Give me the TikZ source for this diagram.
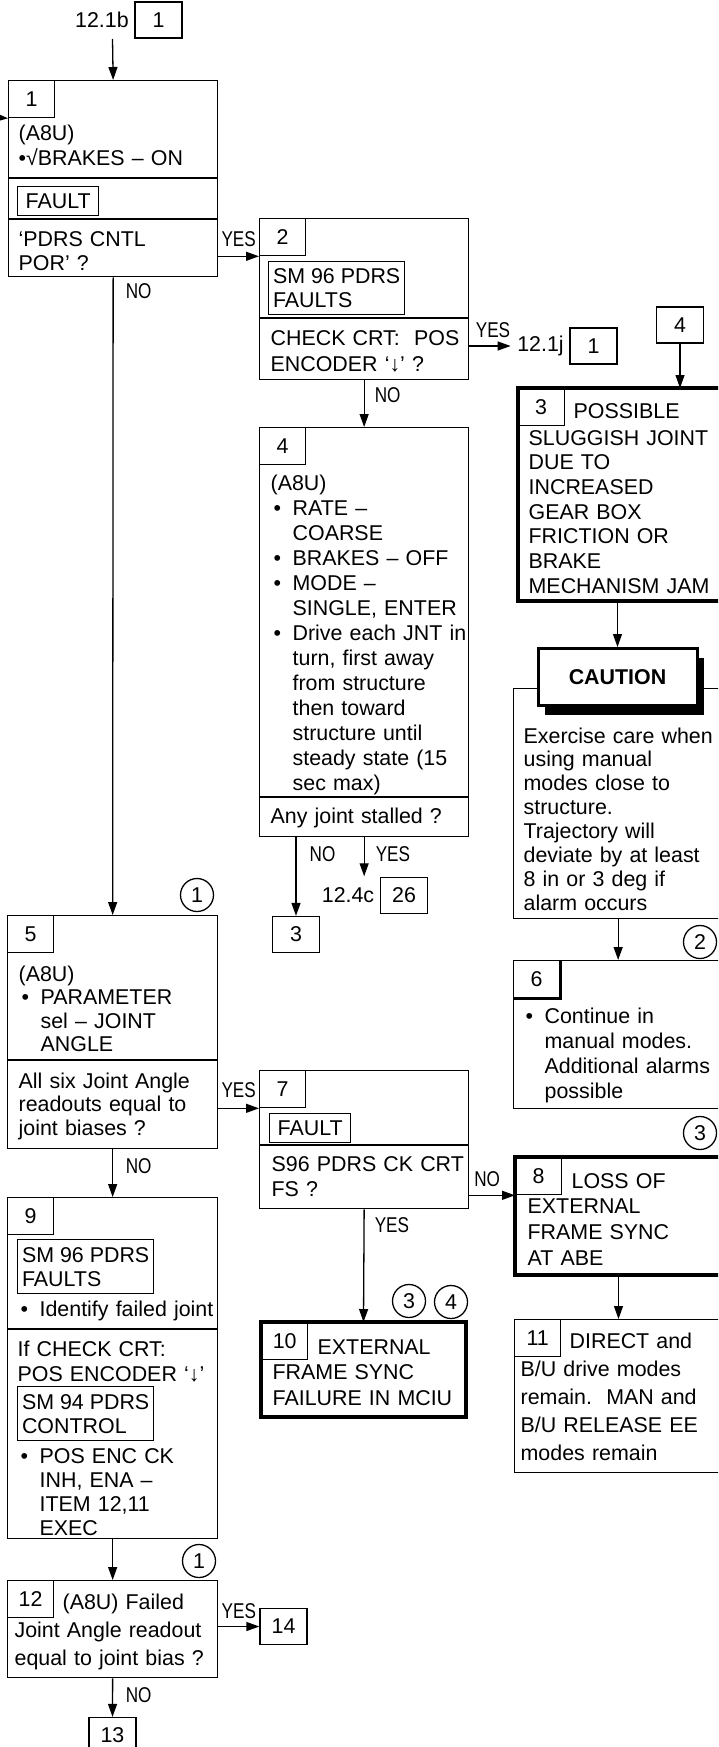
\documentclass[tikz,border=0pt]{standalone}
\usepackage{fontspec}
\setmainfont{Liberation Sans}
\usetikzlibrary{arrows.meta,positioning,shadows}
\newcommand{\sz}[1]{\fontsize{21.4}{#1}\selectfont}
\newcommand{\cond}[1]{\scalebox{0.8}[1]{#1}}
\newcommand{\bitem}{\hspace*{3pt}\makebox[19pt][l]{•}}
\newcommand{\bind}{\hspace*{22pt}}

\begin{document}
\begin{tikzpicture}[x=1pt, y=-1pt, font=\sz{25}, line width=1.3pt, >={Triangle[length=13pt,width=9pt]}]
\tikzstyle{box}=[draw, anchor=north west, inner sep=0pt]
\tikzstyle{heavy}=[box, line width=4pt, outer sep=0pt]
\tikzstyle{tab}=[draw, anchor=north west, minimum width=46pt, minimum height=37pt, inner sep=0pt]
\tikzstyle{txt}=[anchor=base west, inner sep=0pt, align=left, text width=210pt]
\tikzstyle{framed}=[draw, anchor=north west, align=left, inner sep=0pt]
\tikzstyle{ref}=[draw, minimum width=47pt, minimum height=36pt, inner sep=0pt]
\tikzstyle{circ}=[draw, circle, minimum size=33pt, inner sep=0pt]
\tikzstyle{lbl}=[inner sep=0pt]
\tikzstyle{arr}=[->]
\tikzstyle{cauthead}=[draw, fill=white, line width=3pt, minimum width=159pt, minimum height=57pt, font=\sz{25}\bfseries, drop shadow={shadow xshift=7pt, shadow yshift=-9pt, fill=black, opacity=1}]

\useasboundingbox (0,0) rectangle (718,1747);
\clip (0,0) rectangle (718,1747);
\fill[white] (0,0) rectangle (718,1747);

\node[ref] (r0) at (158.5,20) {1};
\node[lbl, left=5pt of r0] (l0) {12.1b};
\coordinate (in1) at (112.5,39);
\coordinate (in0) at (-10,117);

\node[box, minimum width=209pt, minimum height=196pt] (b1) at (8,80) {};
\node[tab] (t1) at (b1.north west) {1};
\node[txt] (b1a) at (18,141) {(A8U)\\•√BRAKES – ON};
\draw (b1.west |- 0,178) -- (b1.east |- 0,178);
\node[framed, minimum width=81pt, minimum height=29pt] (b1f) at (17,186) {FAULT};
\draw (b1.west |- 0,219) -- (b1.east |- 0,219);
\node[txt, font=\sz{24}] (b1q) at (18,246) {‘PDRS CNTL\\POR’ ?};

\node[box, minimum width=209pt, minimum height=161pt] (b2) at (259,218) {};
\node[tab] (t2) at (b2.north west) {2};
\node[framed, minimum width=136pt, minimum height=53pt, font=\sz{24}] (b2f) at (268,261) {SM 96 PDRS\\FAULTS};
\draw (b2.west |- 0,318) -- (b2.east |- 0,318);
\node[txt, font=\sz{26}] (b2q) at (270,345) {CHECK CRT:\ \ POS\\ENCODER ‘↓’ ?};

\node[ref] (r1j) at (593.5,346) {1};
\node[lbl, left=5pt of r1j] (l1j) {12.1j};
\node[ref] (r4) at (680,325) {4};

\node[box, minimum width=209pt, minimum height=409pt] (b4) at (259,427) {};
\node[tab] (t4) at (b4.north west) {4};
\node[txt] (b4a) at (270,490) {(A8U)\\
\bitem RATE –\\
\bind COARSE\\
\bitem BRAKES – OFF\\
\bitem MODE –\\
\bind SINGLE, ENTER\\
\bitem Drive each JNT in\\
\bind turn, first away\\
\bind from structure\\
\bind then toward\\
\bind structure until\\
\bind steady state (15\\
\bind sec max)};
\draw (b4.west |- 0,797) -- (b4.east |- 0,797);
\node[txt] (b4q) at (270,823) {Any joint stalled ?};

\node[ref] (r3) at (296,934.5) {3};
\node[ref] (r26) at (404,895.5) {26};
\node[lbl, left=5pt of r26] (l4c) {12.4c};

\node[heavy, minimum width=204.5pt, minimum height=213pt] (b3) at (517.5,388) {};
\node[tab] (t3) at (b3.north west) {3};
\node[txt] (b3a) at (573,418) {POSSIBLE};
\node[txt, font=\sz{24.7}] (b3b) at (528,445) {SLUGGISH JOINT\\DUE TO\\INCREASED\\GEAR BOX\\FRICTION OR\\BRAKE\\MECHANISM JAM};

\node[box, minimum width=209pt, minimum height=230pt] (cb) at (513,688) {};
\node[cauthead] (ch) at (617.5,677) {CAUTION};
\node[txt, font=\sz{23.9}] (cbt) at (523,743) {Exercise care when\\using manual\\modes close to\\structure.\\Trajectory will\\deviate by at least\\8 in or 3 deg if\\alarm occurs};

\node[box, minimum width=209pt, minimum height=148pt] (b6) at (513,960) {};
\node[tab] (t6) at (b6.north west) {6};
\draw[line width=2.8pt] (t6.north east) -- (t6.south east) -- (t6.south west);
\node[txt] (b6a) at (522,1023) {\bitem Continue in\\
\bind manual modes.\\
\bind Additional alarms\\
\bind possible};

\node[circ] (c1a) at (197,895) {1};
\node[circ] (c2) at (700,942) {2};
\node[circ] (c3a) at (700,1133) {3};
\node[circ] (c3b) at (409,1301) {3};
\node[circ] (c4) at (451,1302) {4};
\node[circ] (c1b) at (199,1561) {1};

\node[box, minimum width=210pt, minimum height=233pt] (b5) at (7,915) {};
\node[tab] (t5) at (b5.north west) {5};
\node[txt, font=\sz{23.5}] (b5a) at (18,981) {(A8U)\\
\bitem PARAMETER\\
\bind sel – JOINT\\
\bind ANGLE};
\draw (b5.west |- 0,1060) -- (b5.east |- 0,1060);
\node[txt, font=\sz{23.5}] (b5q) at (18,1088) {All six Joint Angle\\readouts equal to\\joint biases ?};

\node[box, minimum width=209pt, minimum height=138pt] (b7) at (259,1070) {};
\node[tab] (t7) at (b7.north west) {7};
\node[framed, minimum width=81pt, minimum height=29pt] (b7f) at (269,1113) {FAULT};
\draw (b7.west |- 0,1145) -- (b7.east |- 0,1145);
\node[txt] (b7q) at (271,1171) {S96 PDRS CK CRT\\FS ?};

\node[heavy, minimum width=207pt, minimum height=118pt] (b8) at (515,1157) {};
\node[tab] (t8) at (b8.north west) {8};
\node[txt] (b8a) at (571,1188) {LOSS OF};
\node[txt, font=\sz{26}] (b8b) at (527,1213) {EXTERNAL\\FRAME SYNC\\AT ABE};

\node[box, minimum width=210pt, minimum height=341pt] (b9) at (7,1197) {};
\node[tab] (t9) at (b9.north west) {9};
\node[framed, minimum width=136pt, minimum height=54pt, font=\sz{24}] (b9f) at (17,1239) {SM 96 PDRS\\FAULTS};
\node[txt] (b9a) at (17,1316) {\bitem Identify failed joint};
\draw (b9.west |- 0,1329) -- (b9.east |- 0,1329);
\node[txt] (b9b) at (17,1356) {If CHECK CRT:\\POS ENCODER ‘↓’};
\node[framed, minimum width=136pt, minimum height=54pt, font=\sz{24}] (b9g) at (17,1386) {SM 94 PDRS\\CONTROL};
\node[txt, font=\sz{24}] (b9c) at (17,1463) {\bitem POS ENC CK\\
\bind INH, ENA –\\
\bind ITEM 12,11\\
\bind EXEC};

\node[heavy, minimum width=205pt, minimum height=95pt] (b10) at (261,1322) {};
\node[tab] (t10) at (b10.north west) {10};
\node[txt] (b10a) at (317,1354) {EXTERNAL};
\node[txt, font=\sz{26}] (b10b) at (272,1379) {FRAME SYNC\\FAILURE IN MCIU};

\node[box, minimum width=208pt, minimum height=153pt] (b11) at (514,1319) {};
\node[tab] (t11) at (b11.north west) {11};
\node[txt] (b11a) at (569,1348) {DIRECT and};
\node[txt, font=\sz{28}] (b11b) at (520,1376) {B/U drive modes\\remain.\ \ MAN and\\B/U RELEASE EE\\modes remain};

\node[box, minimum width=210pt, minimum height=97pt] (b12) at (7,1580) {};
\node[tab] (t12) at (b12.north west) {12};
\node[txt] (b12a) at (62,1609) {(A8U) Failed};
\node[txt, font=\sz{28}] (b12b) at (14,1637) {Joint Angle readout\\equal to joint bias ?};

\node[ref] (r14) at (283.5,1626.5) {14};
\node[ref] (r13) at (112.5,1735.5) {13};

\draw[arr] (in1) -- (b1.north);
\draw[arr] (in0) -- (b1.west |- t1.south);
\draw[arr] (b1.east |- t2.south) -- node[lbl, above=9pt] {\cond{YES}} (b2.west |- t2.south);
\draw[arr] (b1.south) node[lbl, below right=6pt and 12pt] {\cond{NO}} -- (b5.north);
\draw[arr, shorten >=6pt] (b2.east |- l1j.west) -- node[lbl, above=8pt] {\cond{YES}} (l1j.west);
\draw[arr] (b2.south) node[lbl, below right=6.5pt and 10pt] {\cond{NO}} -- (b4.north);
\draw[arr] (r4.south) -- (r4.south |- b3.north);
\draw[arr] (ch.north |- b3.south) -- (ch.north);
\draw[arr] (cb.south) -- (b6.north);
\draw[arr] (b4.south -| r3.north) node[lbl, below right=9pt and 13pt] {\cond{NO}} -- (r3.north);
\draw[arr, shorten >=11pt] (b4.south) node[lbl, below right=9pt and 11pt] {\cond{YES}} -- (b4.south |- l4c.north);
\draw[arr] (b5.east |- t7.south) -- node[lbl, above=9.5pt] {\cond{YES}} (b7.west |- t7.south);
\draw[arr] (b5.south) node[lbl, below right=9pt and 12.5pt] {\cond{NO}} -- (b9.north);
\draw[arr] (b7.east |- t8.south) -- node[lbl, above=8pt, xshift=-5pt] {\cond{NO}} (b8.west |- t8.south);
\draw[arr] (b7.south) node[lbl, below right=7.5pt and 10pt] {\cond{YES}} -- (b10.north);
\draw[arr] (b8.south) -- (b8.south |- b11.north);
\draw[arr] (b9.south) -- (b12.north);
\draw[arr] (b12.east |- r14.west) -- node[lbl, above=7pt] {\cond{YES}} (r14.west);
\draw[arr] (b12.south) node[lbl, below right=8.5pt and 12.5pt] {\cond{NO}} -- (r13.north);
\end{tikzpicture}
\end{document}
